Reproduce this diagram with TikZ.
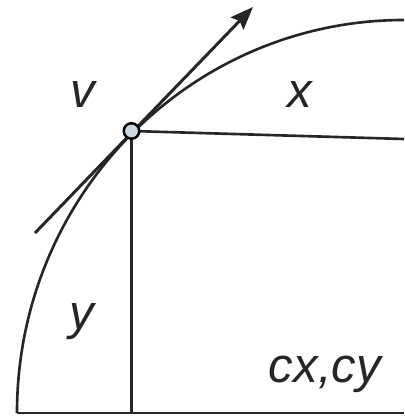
\documentclass[tikz,border=0pt]{standalone}
\usepackage{fontspec}
\setmainfont{Liberation Sans}
\usetikzlibrary{arrows.meta, positioning}
\definecolor{dotfill}{RGB}{205,218,228}

\begin{document}
\begin{tikzpicture}[
    line/.style={line width=1.5pt, black!85},
    vec/.style={-{Stealth[length=13pt, width=10pt, inset=2pt]}, line width=1.7pt, black!85},
    dot/.style={draw, circle, inner sep=0pt, minimum size=0.31cm, fill=dotfill, line width=1.4pt},
    lbl/.style={font=\fontsize{28}{32}\selectfont\itshape, inner sep=0pt, anchor=base, black!85}
]
\useasboundingbox (0,0) rectangle (8.08,8.34);

% Puntos
\coordinate (c) at (8.08,0.08);
\coordinate (a) at (0.34,0.08);
\coordinate (p) at (2.63,5.72);
\coordinate (xe) at (8.08,5.56);
\coordinate (t0) at (0.70,3.68);
\coordinate (t1) at (5.06,8.20);

% Lineas
\draw [line] (a) arc[start angle=180, end angle=90, x radius=7.74, y radius=7.86];
\draw [line] (a) -- (c);
\draw [line] (p) -- (xe);
\draw [line] (p) -- (p |- a);
\draw [vec] (t0) -- (t1);
\node (pt) [dot] at (p) {};

% Etiquetas
\node (v) [lbl] at (1.66,6.18) {v};
\node (x) [lbl] at (6.00,6.18) {x};
\node (y) [lbl] at (1.64,1.74) {y};
\node (cxy) [lbl] at (6.50,0.68) {cx,cy};

\end{tikzpicture}
\end{document}
